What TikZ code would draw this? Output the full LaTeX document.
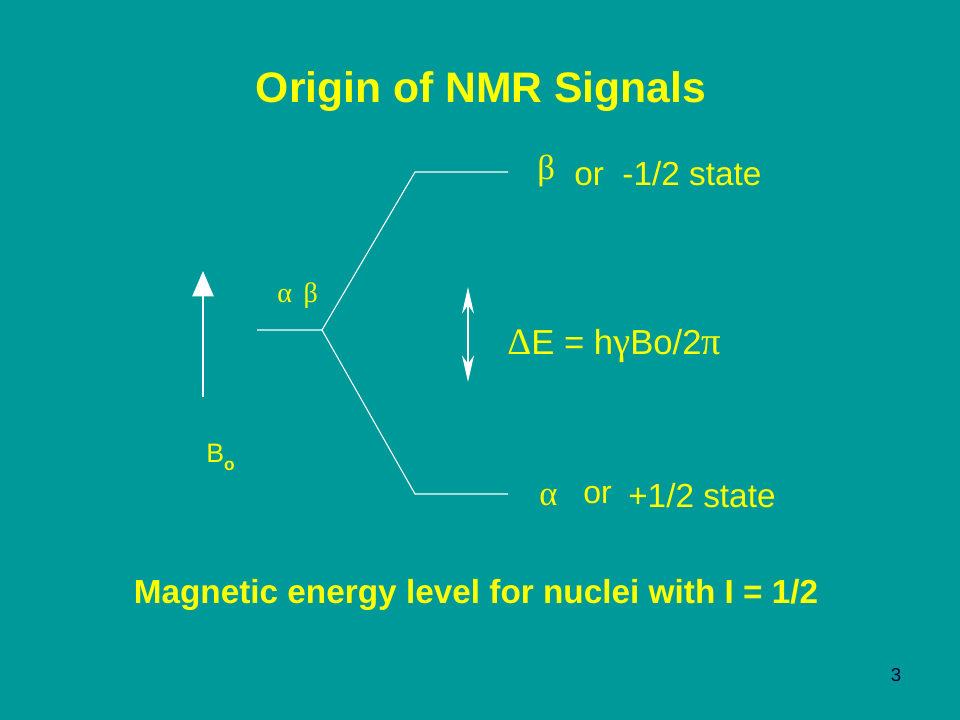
\documentclass[tikz,border=0pt]{standalone}
\usepackage{fontspec}
\setmainfont{Liberation Sans}
\newfontfamily\greekfont{Liberation Serif}
\usetikzlibrary{arrows.meta,positioning}
\definecolor{slideteal}{RGB}{0,153,153}
\definecolor{slideyellow}{RGB}{255,255,0}
\definecolor{pagenavy}{RGB}{0,0,51}
\tikzset{
  level/.style={draw=white, line width=0.8pt},
  txt/.style={text=slideyellow, inner sep=0pt, anchor=base west, font=\fontsize{25}{30}\selectfont},
  grk/.style={txt, font=\greekfont\fontsize{26}{30}\selectfont},
}

\begin{document}
\begin{tikzpicture}[x=0.75pt,y=-0.75pt]
  % Background
  \fill[slideteal] (0,0) rectangle (960,720);

  % Title
  \node[txt, anchor=base, font=\bfseries\fontsize{32}{38}\selectfont] (title) at (481,103) {Origin of NMR Signals};

  % Field arrow
  \coordinate (b0tail) at (203,397);
  \coordinate (b0tip) at (203,271);
  \draw[white, line width=1.1pt, -{Triangle[width=16pt,length=19pt]}] (b0tail) -- (b0tip);
  \node[txt, font=\fontsize{20}{24}\selectfont] (b0) at (206,462) {B\raisebox{-6pt}{\bfseries\fontsize{13}{14}\selectfont o}};

  % Energy levels
  \coordinate (c0) at (257,330);
  \coordinate (split) at (322,330);
  \coordinate (upk) at (415,172);
  \coordinate (upe) at (508,172);
  \coordinate (lok) at (415,494);
  \coordinate (loe) at (508,494);
  \draw[level] (c0) -- (split) -- (upk) -- (upe);
  \draw[level] (split) -- (lok) -- (loe);

  % Level labels
  \node[grk, font=\greekfont\fontsize{21}{24}\selectfont] (ab) at (277,302) {α\, β};
  \node[grk] (beta) at (537,180) {β};
  \node[txt] (betas) at (574,186) {or\ \ -1/2 state};
  \node[grk] (alpha) at (539,505) {α};
  \node[txt, font=\fontsize{24}{28}\selectfont] (alor) at (583,503) {or};
  \node[txt] (alphas) at (628,507) {+1/2 state};

  % Splitting
  \coordinate (gtop) at (468,287);
  \coordinate (gbot) at (468,382);
  \draw[white, line width=1pt, {Stealth[width=9pt,length=20pt]}-{Stealth[width=9pt,length=20pt]}] (gbot) -- (gtop);
  \node[txt, font=\fontsize{26}{30}\selectfont] (de) at (507,354) {{\greekfont\fontsize{28}{30}\selectfont Δ}E = h{\greekfont\fontsize{29}{30}\selectfont γ}Bo/2{\greekfont\fontsize{29}{30}\selectfont π}};

  % Caption
  \node[txt, anchor=base, font=\bfseries\fontsize{25}{30}\selectfont] (caption) at (476,603) {Magnetic energy level for nuclei with I = 1/2};
  \node[text=pagenavy, font=\fontsize{14}{16}\selectfont, inner sep=0pt] (pg) at (896,675) {3};
\end{tikzpicture}
\end{document}
